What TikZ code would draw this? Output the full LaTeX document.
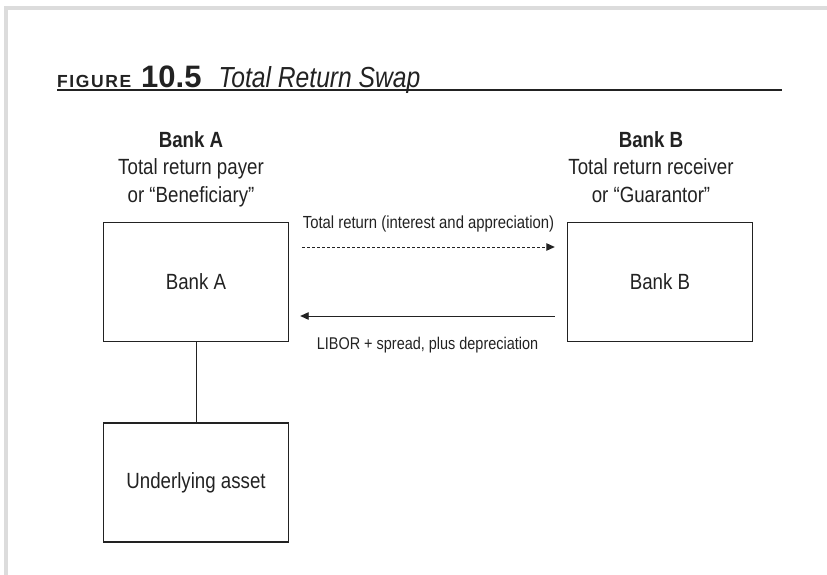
\documentclass[tikz,border=0pt]{standalone}
\usepackage{fontspec}
\setmainfont{Liberation Sans}[FakeStretch=0.85]
\newfontfamily\figfont{Liberation Sans}[LetterSpace=9]
\newfontfamily\numfont{Liberation Sans}
\usetikzlibrary{arrows.meta}
\definecolor{framegray}{HTML}{DCDCDC}
\definecolor{ink}{HTML}{222222}

\begin{document}
\begin{tikzpicture}[x=1pt,y=-1pt,
  box/.style={draw=ink,line width=1.4pt,minimum width=185pt,minimum height=119pt,
    inner sep=0pt,font=\fontsize{22}{26}\selectfont,text=ink},
  head/.style={anchor=north,inner sep=0pt,align=center,
    font=\fontsize{22}{27.5}\selectfont,text=ink},
  flow/.style={draw=ink,line width=0.9pt,-{Triangle[length=8.5pt,width=7.5pt]}},
  lbl/.style={midway,anchor=base,inner sep=0pt,text=ink}]
\useasboundingbox (0,0) rectangle (827,575);
% page frame
\fill[framegray] (4,6) rectangle (827,10);
\fill[framegray] (4,10) rectangle (8,575);

% caption
\node[anchor=base west,inner sep=0pt,text=ink] (cap) at (57,88)
  {{\figfont\bfseries\fontsize{17.5}{18}\selectfont FIGURE}\hspace{10pt}%
   {\numfont\bfseries\fontsize{31}{32}\selectfont 10.5}\hspace{17pt}%
   {\itshape\fontsize{29}{30}\selectfont Total Return Swap}};
\draw[ink,line width=1.5pt] (57,90) -- (782,90);

% party headings
\node[head] (headA) at (191,131) {\textbf{Bank A}\\Total return payer\\or “Beneficiary”};
\node[head] (headB) at (651,131) {\textbf{Bank B}\\Total return receiver\\or “Guarantor”};

% boxes
\node[box] (bankA) at (196,282) {Bank A};
\node[box] (bankB) at (660,282) {Bank B};
\node[box] (asset) at (196,482.5) {Underlying asset};

% cash flows
\draw[flow,dash pattern=on 3pt off 2pt] ([xshift=13pt,yshift=35pt]bankA.east) -- ([xshift=-12pt,yshift=35pt]bankB.west)
  node[lbl,yshift=19pt,font=\fontsize{17.5}{19}\selectfont] {Total return (interest and appreciation)};
\draw[flow] ([xshift=-12pt,yshift=-34pt]bankB.west) -- ([xshift=11pt,yshift=-34pt]bankA.east)
  node[lbl,yshift=-33pt,font=\fontsize{17}{19}\selectfont] {LIBOR + spread, plus depreciation};
\draw[ink,line width=1pt] (bankA.south) -- (asset.north);
\end{tikzpicture}
\end{document}
